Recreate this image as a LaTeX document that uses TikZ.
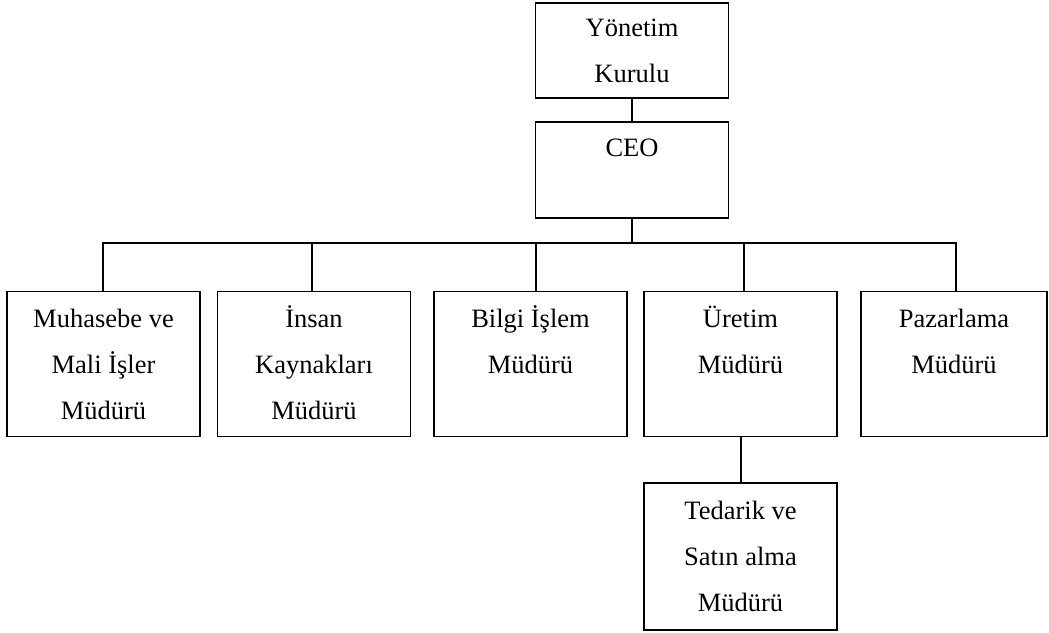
\documentclass[tikz,border=0pt]{standalone}
\usepackage{fontspec}
\setmainfont{Liberation Serif}
\begin{document}
\begin{tikzpicture}[x=1pt,y=-1pt,
  unit/.style={draw, line width=1.9pt, inner sep=0pt, align=center,
    font=\fontsize{26.5}{46}\selectfont, minimum width=193pt, minimum height=145pt},
  link/.style={line width=1.9pt}]
\useasboundingbox (0,0) rectangle (1049,632);

% top of the hierarchy
\node[unit, minimum width=193pt, minimum height=95pt] (board) at (632,50.5)
  {\strut Yönetim\\\strut Kurulu};
\node[unit, minimum width=193pt, minimum height=96pt] (ceo) at (632,170)
  {\strut CEO\\\strut};

% department managers
\node[unit] (acc)  at (103.5,364) {\strut Muhasebe ve\\\strut Mali İşler\\\strut Müdürü};
\node[unit] (hr)   at (314,364)   {\strut İnsan\\\strut Kaynakları\\\strut Müdürü};
\node[unit] (it)   at (530.5,364) {\strut Bilgi İşlem\\\strut Müdürü\\\strut};
\node[unit] (prod) at (740.5,364) {\strut Üretim\\\strut Müdürü\\\strut};
\node[unit, minimum width=186pt] (mkt) at (954,364) {\strut Pazarlama\\\strut Müdürü\\\strut};

% purchasing under production
\node[unit, minimum height=147pt] (buy) at (740.5,556.5)
  {\strut Tedarik ve\\\strut Satın alma\\\strut Müdürü};

% distribution bus
\coordinate (bus)  at (632,243);
\coordinate (busL) at (103,243);
\coordinate (busR) at (956,243);

\draw[link] (board.south) -- (ceo.north);
\draw[link] (ceo.south) -- (bus);
\draw[link] ([xshift=-1pt]busL) -- ([xshift=1pt]busR);
\draw[link] ([xshift=-0.5pt]acc.north) -- (busL);
\draw[link] ([xshift=-2pt]hr.north) -- ([xshift=-2pt]hr.north |- bus);
\draw[link] ([xshift=5.5pt]it.north) -- ([xshift=5.5pt]it.north |- bus);
\draw[link] ([xshift=3.5pt]prod.north) -- ([xshift=3.5pt]prod.north |- bus);
\draw[link] ([xshift=2pt]mkt.north) -- (busR);
\draw[link] ([xshift=0.5pt]prod.south) -- ([xshift=0.5pt]buy.north);
\end{tikzpicture}
\end{document}
